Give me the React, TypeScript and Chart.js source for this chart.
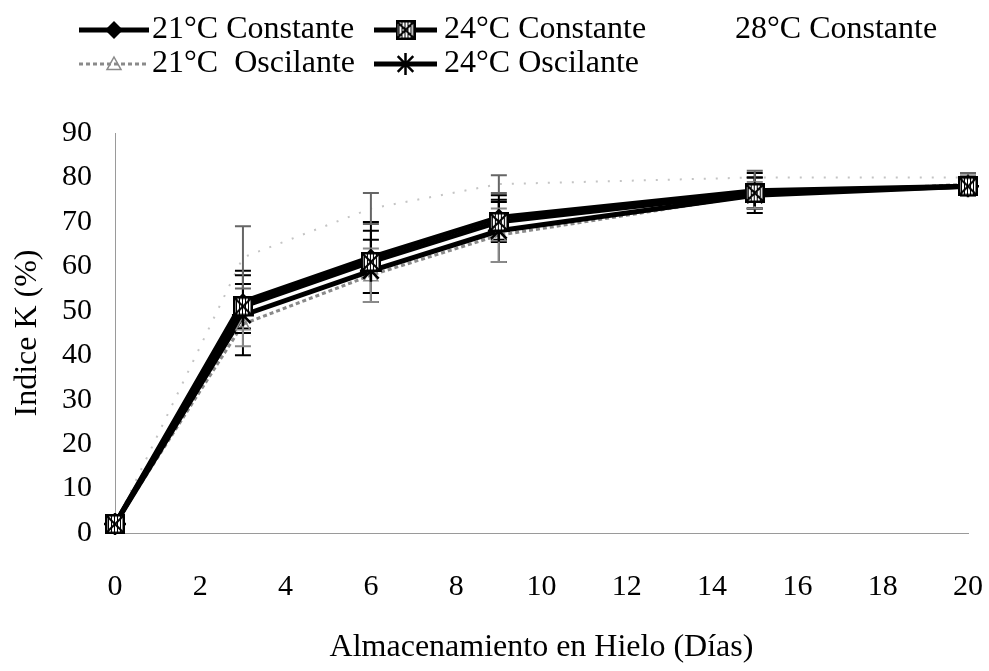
import { useEffect, useRef } from 'react';
import { Chart, registerables } from 'chart.js';

Chart.register(...registerables);

// Storage days in ice
const days = [0, 3, 6, 9, 15, 20];

// K index (%) per treatment
const const21 = [2, 52, 62, 71, 77, 78];
const const24 = [2, 51, 61, 70, 76.5, 78];
const osc21 = [2, 47, 58, 67, 76, 78.5];
const osc24 = [2, 49, 59, 68, 76, 78];
const const28 = [2, 62, 73, 78.5, 80, 80];

// Standard deviations
const errConst21 = [1, 7, 8, 5, 4, 2];
const errConst24 = [1, 5, 7, 4.5, 3.5, 2];
const errOsc21 = [1, 5, 6, 6, 3, 2];
const errOsc24 = [1, 9, 7, 7, 4, 2];
const errConst28 = [1, 7, 3.5, 2, 1.5, 1];

const yTicks = [0, 10, 20, 30, 40, 50, 60, 70, 80, 90];
const xTicks = [0, 2, 4, 6, 8, 10, 12, 14, 16, 18, 20];

const FONT = '"Liberation Serif", "Times New Roman", serif';

function crossSquare(size: number): HTMLCanvasElement {
  const c = document.createElement('canvas');
  c.width = size;
  c.height = size;
  const g = c.getContext('2d')!;
  g.fillStyle = '#fff';
  g.fillRect(0, 0, size, size);
  g.strokeStyle = '#000';
  g.lineWidth = 1;
  for (let x = 3; x < size; x += 3) {
    g.beginPath();
    g.moveTo(x + 0.5, 0);
    g.lineTo(x + 0.5, size);
    g.stroke();
  }
  g.lineWidth = 2.5;
  g.strokeRect(1.25, 1.25, size - 2.5, size - 2.5);
  g.lineWidth = 2;
  g.beginPath();
  g.moveTo(0, 0);
  g.lineTo(size, size);
  g.moveTo(size, 0);
  g.lineTo(0, size);
  g.stroke();
  return c;
}

type Marker = 'diamond' | 'square' | 'star' | 'triangle' | 'none';

function drawMarker(
  ctx: CanvasRenderingContext2D,
  kind: Marker,
  x: number,
  y: number,
  color: string,
  img: HTMLCanvasElement | null
) {
  ctx.save();
  ctx.setLineDash([]);
  ctx.strokeStyle = color;
  ctx.fillStyle = color;
  if (kind === 'diamond') {
    const r = 9;
    ctx.beginPath();
    ctx.moveTo(x, y - r);
    ctx.lineTo(x + r, y);
    ctx.lineTo(x, y + r);
    ctx.lineTo(x - r, y);
    ctx.closePath();
    ctx.fill();
  } else if (kind === 'square' && img) {
    ctx.drawImage(img, x - img.width / 2, y - img.height / 2);
  } else if (kind === 'star') {
    const r = 11;
    ctx.lineWidth = 2.5;
    ctx.beginPath();
    for (let k = 0; k < 4; k++) {
      const a = (k * Math.PI) / 4;
      ctx.moveTo(x - r * Math.cos(a), y - r * Math.sin(a));
      ctx.lineTo(x + r * Math.cos(a), y + r * Math.sin(a));
    }
    ctx.stroke();
  } else if (kind === 'triangle') {
    const r = 7;
    ctx.lineWidth = 1.5;
    ctx.beginPath();
    ctx.moveTo(x, y - r);
    ctx.lineTo(x + r, y + r * 0.8);
    ctx.lineTo(x - r, y + r * 0.8);
    ctx.closePath();
    ctx.stroke();
  }
  ctx.restore();
}

export default function App() {
  const canvasRef = useRef<HTMLCanvasElement | null>(null);

  useEffect(() => {
    const canvas = canvasRef.current;
    if (!canvas) return;
    const squareImg = crossSquare(20);

    const pts = (vals: number[]) => days.map((d, i) => ({ x: d, y: vals[i] }));

    const series = [
      { label: '24°C Constante', values: const24, errs: errConst24, color: '#000', width: 5, dash: [] as number[], marker: 'square' as Marker, barColor: '#000' },
      { label: '21°C Constante', values: const21, errs: errConst21, color: '#000', width: 5, dash: [] as number[], marker: 'diamond' as Marker, barColor: '#000' },
      { label: '24°C Oscilante', values: osc24, errs: errOsc24, color: '#000', width: 5, dash: [] as number[], marker: 'star' as Marker, barColor: '#000' },
      { label: '21°C  Oscilante', values: osc21, errs: errOsc21, color: '#8a8a8a', width: 3, dash: [4, 3], marker: 'triangle' as Marker, barColor: '#8a8a8a' },
      { label: '28°C Constante', values: const28, errs: errConst28, color: '#c4c4c4', width: 2, dash: [2, 10], marker: 'none' as Marker, barColor: '#666' },
    ];

    const errorBars = {
      id: 'errorBars',
      afterDatasetsDraw(chart: any) {
        const { ctx, scales } = chart;
        const xs = scales.x;
        const ys = scales.y;
        ctx.save();
        series.forEach((s) => {
          ctx.strokeStyle = s.barColor;
          ctx.lineWidth = 2;
          ctx.setLineDash([]);
          s.values.forEach((v, i) => {
            const x = xs.getPixelForValue(days[i]);
            const yt = ys.getPixelForValue(v + s.errs[i]);
            const yb = ys.getPixelForValue(v - s.errs[i]);
            ctx.beginPath();
            ctx.moveTo(x, yt);
            ctx.lineTo(x, yb);
            ctx.moveTo(x - 8, yt);
            ctx.lineTo(x + 8, yt);
            ctx.moveTo(x - 8, yb);
            ctx.lineTo(x + 8, yb);
            ctx.stroke();
          });
        });
        ctx.restore();
      },
    };

    const markers = {
      id: 'markers',
      afterDatasetsDraw(chart: any) {
        const { ctx, scales } = chart;
        for (let k = series.length - 1; k >= 0; k--) {
          const s = series[k];
          s.values.forEach((v, i) => {
            drawMarker(
              ctx,
              s.marker,
              scales.x.getPixelForValue(days[i]),
              scales.y.getPixelForValue(v),
              s.color,
              squareImg
            );
          });
        }
      },
    };

    const legendItems = [
      { s: 1, row: 0, x0: 79, x1: 149, tx: 152 },
      { s: 0, row: 0, x0: 374, x1: 437, tx: 444 },
      { s: 4, row: 0, x0: -1, x1: -1, tx: 735 },
      { s: 3, row: 1, x0: 79, x1: 149, tx: 152 },
      { s: 2, row: 1, x0: 374, x1: 437, tx: 444 },
    ];
    const rowY = [30, 64];

    const legend = {
      id: 'customLegend',
      afterDraw(chart: any) {
        const { ctx } = chart;
        ctx.save();
        legendItems.forEach((it) => {
          const s = series[it.s];
          const y = rowY[it.row];
          if (it.x0 >= 0) {
            ctx.strokeStyle = s.color;
            ctx.lineWidth = s.width;
            ctx.setLineDash(s.dash);
            ctx.beginPath();
            ctx.moveTo(it.x0, y);
            ctx.lineTo(it.x1, y);
            ctx.stroke();
            drawMarker(ctx, s.marker, (it.x0 + it.x1) / 2, y, s.color, squareImg);
          }
          ctx.setLineDash([]);
          ctx.fillStyle = '#000';
          ctx.font = `32px ${FONT}`;
          ctx.textBaseline = 'middle';
          ctx.textAlign = 'left';
          ctx.fillText(s.label, it.tx, y);
        });
        ctx.restore();
      },
    };

    const chart = new Chart(canvas, {
      type: 'line',
      data: {
        datasets: series.map((s) => ({
          label: s.label,
          data: pts(s.values),
          borderColor: s.color,
          borderWidth: s.width,
          borderDash: s.dash,
          pointRadius: 0,
          pointHoverRadius: 0,
          fill: false,
          tension: 0,
        })),
      },
      options: {
        responsive: true,
        maintainAspectRatio: false,
        animation: false,
        events: [],
        layout: { padding: { left: 0, right: 21, top: 133, bottom: 0 } },
        plugins: {
          legend: { display: false },
          tooltip: { enabled: false },
        },
        scales: {
          x: {
            type: 'linear',
            min: 0,
            max: 20,
            afterBuildTicks: (scale: any) => {
              scale.ticks = xTicks.map((v) => ({ value: v }));
            },
            afterFit: (scale: any) => {
              scale.height = 138;
              scale.paddingLeft = 0;
              scale.paddingRight = 0;
            },
            grid: { display: false, drawTicks: false },
            border: { display: true, color: '#9a9a9a', width: 1, dash: [1, 3] },
            ticks: {
              color: '#000',
              padding: 36,
              maxRotation: 0,
              autoSkip: false,
              font: { family: FONT, size: 30 },
            },
            title: {
              display: true,
              text: 'Almacenamiento en Hielo (Días)',
              color: '#000',
              font: { family: FONT, size: 32 },
              padding: { top: 0, bottom: 4 },
            },
          },
          y: {
            type: 'linear',
            min: 0,
            max: 90,
            afterBuildTicks: (scale: any) => {
              scale.ticks = yTicks.map((v) => ({ value: v }));
            },
            afterFit: (scale: any) => {
              scale.width = 115;
              scale.paddingTop = 0;
              scale.paddingBottom = 0;
            },
            grid: { display: false, drawTicks: false },
            border: { display: true, color: '#9a9a9a', width: 1, dash: [1, 3] },
            ticks: {
              color: '#000',
              padding: 23,
              font: { family: FONT, size: 30 },
            },
            title: {
              display: true,
              text: 'Indice K (%)',
              color: '#000',
              font: { family: FONT, size: 32 },
              padding: { top: 8, bottom: 0 },
            },
          },
        },
      },
      plugins: [errorBars, markers, legend],
    });

    return () => chart.destroy();
  }, []);

  return (
    <div style={{ position: 'absolute', left: 0, top: 0, width: 989, height: 671, background: '#fff' }}>
      <canvas ref={canvasRef} />
    </div>
  );
}
